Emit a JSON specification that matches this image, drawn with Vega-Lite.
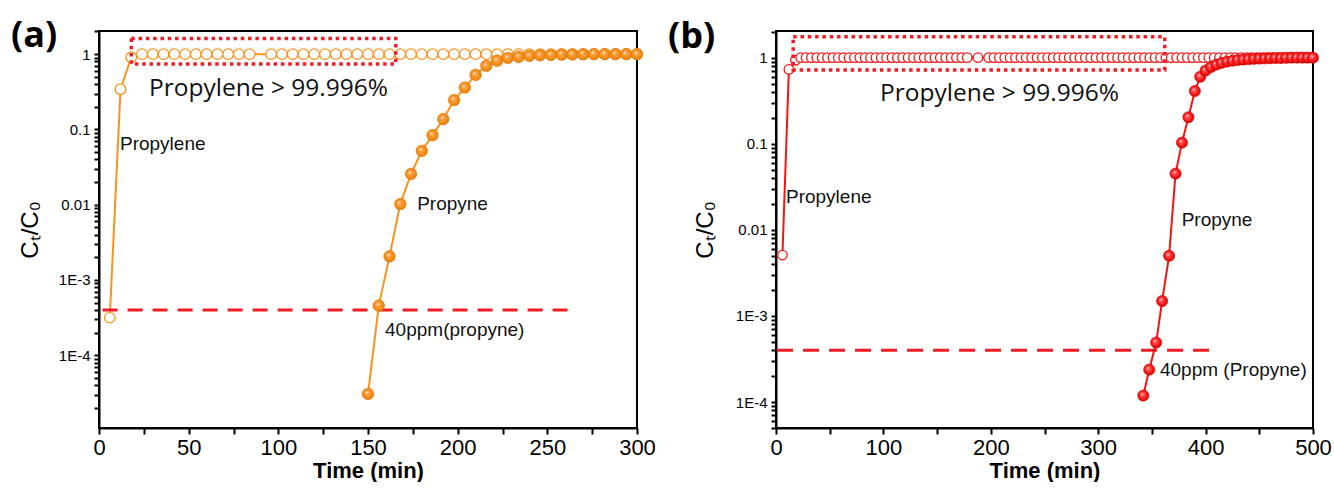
{
  "$schema": "https://vega.github.io/schema/vega-lite/v6.json",
  "padding": {"left": 10, "top": 17, "right": 0, "bottom": 0},
  "background": "white",
  "datasets": {
    "runA": [
      {"gas": "Propylene", "t": 6, "c": 0.000316},
      {"gas": "Propylene", "t": 12, "c": 0.342},
      {"gas": "Propylene", "t": 18, "c": 0.91},
      {"gas": "Propylene", "t": 24, "c": 1}, {"gas": "Propylene", "t": 30, "c": 1}, {"gas": "Propylene", "t": 36, "c": 1},
      {"gas": "Propylene", "t": 42, "c": 1}, {"gas": "Propylene", "t": 48, "c": 1}, {"gas": "Propylene", "t": 54, "c": 1},
      {"gas": "Propylene", "t": 60, "c": 1}, {"gas": "Propylene", "t": 66, "c": 1}, {"gas": "Propylene", "t": 72, "c": 1},
      {"gas": "Propylene", "t": 78, "c": 1}, {"gas": "Propylene", "t": 84, "c": 1}, {"gas": "Propylene", "t": 96, "c": 1},
      {"gas": "Propylene", "t": 102, "c": 1}, {"gas": "Propylene", "t": 108, "c": 1}, {"gas": "Propylene", "t": 114, "c": 1},
      {"gas": "Propylene", "t": 120, "c": 1}, {"gas": "Propylene", "t": 126, "c": 1}, {"gas": "Propylene", "t": 132, "c": 1},
      {"gas": "Propylene", "t": 138, "c": 1}, {"gas": "Propylene", "t": 144, "c": 1}, {"gas": "Propylene", "t": 150, "c": 1},
      {"gas": "Propylene", "t": 156, "c": 1}, {"gas": "Propylene", "t": 162, "c": 1}, {"gas": "Propylene", "t": 168, "c": 1},
      {"gas": "Propylene", "t": 174, "c": 1}, {"gas": "Propylene", "t": 180, "c": 1}, {"gas": "Propylene", "t": 186, "c": 1},
      {"gas": "Propylene", "t": 192, "c": 1}, {"gas": "Propylene", "t": 198, "c": 1}, {"gas": "Propylene", "t": 204, "c": 1},
      {"gas": "Propylene", "t": 210, "c": 1}, {"gas": "Propylene", "t": 216, "c": 1}, {"gas": "Propylene", "t": 222, "c": 1},
      {"gas": "Propylene", "t": 228, "c": 1}, {"gas": "Propylene", "t": 234, "c": 1}, {"gas": "Propylene", "t": 240, "c": 1},
      {"gas": "Propylene", "t": 246, "c": 1}, {"gas": "Propylene", "t": 252, "c": 1}, {"gas": "Propylene", "t": 258, "c": 1},
      {"gas": "Propylene", "t": 264, "c": 1}, {"gas": "Propylene", "t": 270, "c": 1}, {"gas": "Propylene", "t": 276, "c": 1},
      {"gas": "Propylene", "t": 282, "c": 1}, {"gas": "Propylene", "t": 288, "c": 1}, {"gas": "Propylene", "t": 294, "c": 1},
      {"gas": "Propylene", "t": 300, "c": 1},
      {"gas": "Propyne", "t": 150, "c": 0.0000306},
      {"gas": "Propyne", "t": 156, "c": 0.000456},
      {"gas": "Propyne", "t": 162, "c": 0.00206},
      {"gas": "Propyne", "t": 168, "c": 0.0102},
      {"gas": "Propyne", "t": 174, "c": 0.0256},
      {"gas": "Propyne", "t": 180, "c": 0.052},
      {"gas": "Propyne", "t": 186, "c": 0.084},
      {"gas": "Propyne", "t": 192, "c": 0.137},
      {"gas": "Propyne", "t": 198, "c": 0.245},
      {"gas": "Propyne", "t": 204, "c": 0.36},
      {"gas": "Propyne", "t": 210, "c": 0.53},
      {"gas": "Propyne", "t": 216, "c": 0.7},
      {"gas": "Propyne", "t": 222, "c": 0.82},
      {"gas": "Propyne", "t": 228, "c": 0.89},
      {"gas": "Propyne", "t": 234, "c": 0.92},
      {"gas": "Propyne", "t": 240, "c": 0.95},
      {"gas": "Propyne", "t": 246, "c": 0.965},
      {"gas": "Propyne", "t": 252, "c": 0.975},
      {"gas": "Propyne", "t": 258, "c": 0.985},
      {"gas": "Propyne", "t": 264, "c": 0.99},
      {"gas": "Propyne", "t": 270, "c": 0.995},
      {"gas": "Propyne", "t": 276, "c": 1},
      {"gas": "Propyne", "t": 282, "c": 1},
      {"gas": "Propyne", "t": 288, "c": 1},
      {"gas": "Propyne", "t": 294, "c": 1},
      {"gas": "Propyne", "t": 300, "c": 1}
    ],
    "runB": [
      {"gas": "Propylene", "t": 6, "c": 0.0051},
      {"gas": "Propylene", "t": 12, "c": 0.73},
      {"gas": "Propylene", "t": 18, "c": 0.93},
      {"gas": "Propylene", "t": 23, "c": 1}, {"gas": "Propylene", "t": 28, "c": 1}, {"gas": "Propylene", "t": 33, "c": 1},
      {"gas": "Propylene", "t": 38, "c": 1}, {"gas": "Propylene", "t": 43, "c": 1}, {"gas": "Propylene", "t": 48, "c": 1},
      {"gas": "Propylene", "t": 53, "c": 1}, {"gas": "Propylene", "t": 58, "c": 1}, {"gas": "Propylene", "t": 63, "c": 1},
      {"gas": "Propylene", "t": 68, "c": 1}, {"gas": "Propylene", "t": 73, "c": 1}, {"gas": "Propylene", "t": 78, "c": 1},
      {"gas": "Propylene", "t": 83, "c": 1}, {"gas": "Propylene", "t": 88, "c": 1}, {"gas": "Propylene", "t": 93, "c": 1},
      {"gas": "Propylene", "t": 98, "c": 1}, {"gas": "Propylene", "t": 103, "c": 1}, {"gas": "Propylene", "t": 108, "c": 1},
      {"gas": "Propylene", "t": 113, "c": 1}, {"gas": "Propylene", "t": 118, "c": 1}, {"gas": "Propylene", "t": 123, "c": 1},
      {"gas": "Propylene", "t": 128, "c": 1}, {"gas": "Propylene", "t": 133, "c": 1}, {"gas": "Propylene", "t": 138, "c": 1},
      {"gas": "Propylene", "t": 143, "c": 1}, {"gas": "Propylene", "t": 148, "c": 1}, {"gas": "Propylene", "t": 153, "c": 1},
      {"gas": "Propylene", "t": 158, "c": 1}, {"gas": "Propylene", "t": 163, "c": 1}, {"gas": "Propylene", "t": 168, "c": 1},
      {"gas": "Propylene", "t": 173, "c": 1}, {"gas": "Propylene", "t": 178, "c": 1}, {"gas": "Propylene", "t": 188, "c": 1},
      {"gas": "Propylene", "t": 198, "c": 1}, {"gas": "Propylene", "t": 203, "c": 1}, {"gas": "Propylene", "t": 208, "c": 1},
      {"gas": "Propylene", "t": 213, "c": 1}, {"gas": "Propylene", "t": 218, "c": 1}, {"gas": "Propylene", "t": 223, "c": 1},
      {"gas": "Propylene", "t": 228, "c": 1}, {"gas": "Propylene", "t": 233, "c": 1}, {"gas": "Propylene", "t": 238, "c": 1},
      {"gas": "Propylene", "t": 243, "c": 1}, {"gas": "Propylene", "t": 248, "c": 1}, {"gas": "Propylene", "t": 253, "c": 1},
      {"gas": "Propylene", "t": 258, "c": 1}, {"gas": "Propylene", "t": 263, "c": 1}, {"gas": "Propylene", "t": 268, "c": 1},
      {"gas": "Propylene", "t": 273, "c": 1}, {"gas": "Propylene", "t": 278, "c": 1}, {"gas": "Propylene", "t": 283, "c": 1},
      {"gas": "Propylene", "t": 288, "c": 1}, {"gas": "Propylene", "t": 293, "c": 1}, {"gas": "Propylene", "t": 298, "c": 1},
      {"gas": "Propylene", "t": 303, "c": 1}, {"gas": "Propylene", "t": 308, "c": 1}, {"gas": "Propylene", "t": 313, "c": 1},
      {"gas": "Propylene", "t": 318, "c": 1}, {"gas": "Propylene", "t": 323, "c": 1}, {"gas": "Propylene", "t": 328, "c": 1},
      {"gas": "Propylene", "t": 333, "c": 1}, {"gas": "Propylene", "t": 338, "c": 1}, {"gas": "Propylene", "t": 343, "c": 1},
      {"gas": "Propylene", "t": 348, "c": 1}, {"gas": "Propylene", "t": 353, "c": 1}, {"gas": "Propylene", "t": 358, "c": 1},
      {"gas": "Propylene", "t": 363, "c": 1}, {"gas": "Propylene", "t": 368, "c": 1}, {"gas": "Propylene", "t": 373, "c": 1},
      {"gas": "Propylene", "t": 378, "c": 1}, {"gas": "Propylene", "t": 383, "c": 1}, {"gas": "Propylene", "t": 388, "c": 1},
      {"gas": "Propylene", "t": 393, "c": 1}, {"gas": "Propylene", "t": 398, "c": 1}, {"gas": "Propylene", "t": 403, "c": 1},
      {"gas": "Propylene", "t": 408, "c": 1}, {"gas": "Propylene", "t": 413, "c": 1}, {"gas": "Propylene", "t": 418, "c": 1},
      {"gas": "Propylene", "t": 423, "c": 1}, {"gas": "Propylene", "t": 428, "c": 1}, {"gas": "Propylene", "t": 433, "c": 1},
      {"gas": "Propylene", "t": 438, "c": 1}, {"gas": "Propylene", "t": 443, "c": 1}, {"gas": "Propylene", "t": 448, "c": 1},
      {"gas": "Propylene", "t": 453, "c": 1}, {"gas": "Propylene", "t": 458, "c": 1}, {"gas": "Propylene", "t": 463, "c": 1},
      {"gas": "Propylene", "t": 468, "c": 1}, {"gas": "Propylene", "t": 473, "c": 1}, {"gas": "Propylene", "t": 478, "c": 1},
      {"gas": "Propylene", "t": 483, "c": 1}, {"gas": "Propylene", "t": 488, "c": 1}, {"gas": "Propylene", "t": 493, "c": 1},
      {"gas": "Propylene", "t": 498, "c": 1},
      {"gas": "Propyne", "t": 342, "c": 0.000119},
      {"gas": "Propyne", "t": 347.5, "c": 0.000238},
      {"gas": "Propyne", "t": 354, "c": 0.000492},
      {"gas": "Propyne", "t": 359.5, "c": 0.00149},
      {"gas": "Propyne", "t": 366, "c": 0.005},
      {"gas": "Propyne", "t": 372, "c": 0.045},
      {"gas": "Propyne", "t": 378, "c": 0.103},
      {"gas": "Propyne", "t": 384, "c": 0.203},
      {"gas": "Propyne", "t": 390, "c": 0.41},
      {"gas": "Propyne", "t": 395, "c": 0.6},
      {"gas": "Propyne", "t": 400, "c": 0.71},
      {"gas": "Propyne", "t": 405, "c": 0.78},
      {"gas": "Propyne", "t": 410, "c": 0.83},
      {"gas": "Propyne", "t": 415, "c": 0.87},
      {"gas": "Propyne", "t": 420, "c": 0.9},
      {"gas": "Propyne", "t": 425, "c": 0.92},
      {"gas": "Propyne", "t": 430, "c": 0.94},
      {"gas": "Propyne", "t": 435, "c": 0.95},
      {"gas": "Propyne", "t": 440, "c": 0.96},
      {"gas": "Propyne", "t": 445, "c": 0.97},
      {"gas": "Propyne", "t": 450, "c": 0.975},
      {"gas": "Propyne", "t": 455, "c": 0.98},
      {"gas": "Propyne", "t": 460, "c": 0.985},
      {"gas": "Propyne", "t": 465, "c": 0.99},
      {"gas": "Propyne", "t": 470, "c": 0.99},
      {"gas": "Propyne", "t": 475, "c": 0.995},
      {"gas": "Propyne", "t": 480, "c": 1},
      {"gas": "Propyne", "t": 485, "c": 1},
      {"gas": "Propyne", "t": 490, "c": 1},
      {"gas": "Propyne", "t": 495, "c": 1},
      {"gas": "Propyne", "t": 500, "c": 1}
    ]
  },
  "hconcat": [
    {
      "width": 538,
      "height": 397,
      "title": {"text": "(a)", "anchor": "start", "frame": "group", "dx": -88, "dy": 31, "offset": 0},
      "data": {"name": "runA"},
      "layer": [
        {
          "transform": [{"filter": "datum.gas == 'Propylene'"}],
          "mark": {"type": "line", "color": "#f7941d", "strokeWidth": 2},
          "encoding": {
            "x": {"field": "t", "type": "quantitative", "scale": {"domain": [0, 300], "nice": false, "zero": false},
                  "axis": {"title": "Time (min)", "ticks": true, "tickSize": 6, "tickWidth": 2, "tickColor": "black", "values": [0, 25, 50, 75, 100, 125, 150, 175, 200, 225, 250, 275, 300], "labelExpr": "datum.value % 50 == 0 ? datum.label : ''"}},
            "y": {"field": "c", "type": "quantitative", "scale": {"type": "log", "domain": [0.0000108, 2.03], "nice": false},
                  "axis": {"title": "Cₜ/C₀", "titlePadding": 16, "ticks": true, "tickSize": 5, "tickWidth": 2, "tickColor": "black", "values": [0.00002, 0.00003, 0.00004, 0.00005, 0.00006, 0.00007, 0.00008, 0.00009, 0.0001, 0.0002, 0.0003, 0.0004, 0.0005, 0.0006, 0.0007, 0.0008, 0.0009, 0.001, 0.002, 0.003, 0.004, 0.005, 0.006, 0.007, 0.008, 0.009, 0.01, 0.02, 0.03, 0.04, 0.05, 0.06, 0.07, 0.08, 0.09, 0.1, 0.2, 0.3, 0.4, 0.5, 0.6, 0.7, 0.8, 0.9, 1, 2]}}
          }
        },
        {
          "transform": [{"filter": "datum.gas == 'Propylene'"}],
          "mark": {"type": "point", "shape": "circle", "filled": true, "fill": "white", "stroke": "#f7941d", "strokeWidth": 1.3, "size": 112, "opacity": 1},
          "encoding": {
            "x": {"field": "t", "type": "quantitative",
                  "axis": {"title": "Time (min)", "ticks": true, "tickSize": 6, "tickWidth": 2, "tickColor": "black", "values": [0, 25, 50, 75, 100, 125, 150, 175, 200, 225, 250, 275, 300], "labelExpr": "datum.value % 50 == 0 ? datum.label : ''"}},
            "y": {"field": "c", "type": "quantitative",
                  "axis": {"title": "Cₜ/C₀", "titlePadding": 16, "ticks": true, "tickSize": 5, "tickWidth": 2, "tickColor": "black", "values": [0.00002, 0.00003, 0.00004, 0.00005, 0.00006, 0.00007, 0.00008, 0.00009, 0.0001, 0.0002, 0.0003, 0.0004, 0.0005, 0.0006, 0.0007, 0.0008, 0.0009, 0.001, 0.002, 0.003, 0.004, 0.005, 0.006, 0.007, 0.008, 0.009, 0.01, 0.02, 0.03, 0.04, 0.05, 0.06, 0.07, 0.08, 0.09, 0.1, 0.2, 0.3, 0.4, 0.5, 0.6, 0.7, 0.8, 0.9, 1, 2]}}
          }
        },
        {
          "data": {"values": [{}]},
          "mark": {"type": "rect", "fill": null, "stroke": "#ee1c25", "strokeWidth": 3.5, "strokeDash": [3.5, 3.8]},
          "encoding": {
            "x": {"datum": 18,
                  "axis": {"title": "Time (min)", "ticks": true, "tickSize": 6, "tickWidth": 2, "tickColor": "black", "values": [0, 25, 50, 75, 100, 125, 150, 175, 200, 225, 250, 275, 300], "labelExpr": "datum.value % 50 == 0 ? datum.label : ''"}},
            "x2": {"datum": 165.5},
            "y": {"datum": 0.74,
                  "axis": {"title": "Cₜ/C₀", "titlePadding": 16, "ticks": true, "tickSize": 5, "tickWidth": 2, "tickColor": "black", "values": [0.00002, 0.00003, 0.00004, 0.00005, 0.00006, 0.00007, 0.00008, 0.00009, 0.0001, 0.0002, 0.0003, 0.0004, 0.0005, 0.0006, 0.0007, 0.0008, 0.0009, 0.001, 0.002, 0.003, 0.004, 0.005, 0.006, 0.007, 0.008, 0.009, 0.01, 0.02, 0.03, 0.04, 0.05, 0.06, 0.07, 0.08, 0.09, 0.1, 0.2, 0.3, 0.4, 0.5, 0.6, 0.7, 0.8, 0.9, 1, 2]}},
            "y2": {"datum": 1.62}
          }
        },
        {
          "data": {"values": [{}]},
          "mark": {"type": "rule", "stroke": "#f01c24", "strokeWidth": 3, "strokeDash": [15, 10]},
          "encoding": {
            "x": {"datum": 2,
                  "axis": {"title": "Time (min)", "ticks": true, "tickSize": 6, "tickWidth": 2, "tickColor": "black", "values": [0, 25, 50, 75, 100, 125, 150, 175, 200, 225, 250, 275, 300], "labelExpr": "datum.value % 50 == 0 ? datum.label : ''"}},
            "x2": {"datum": 263},
            "y": {"datum": 0.0004,
                  "axis": {"title": "Cₜ/C₀", "titlePadding": 16, "ticks": true, "tickSize": 5, "tickWidth": 2, "tickColor": "black", "values": [0.00002, 0.00003, 0.00004, 0.00005, 0.00006, 0.00007, 0.00008, 0.00009, 0.0001, 0.0002, 0.0003, 0.0004, 0.0005, 0.0006, 0.0007, 0.0008, 0.0009, 0.001, 0.002, 0.003, 0.004, 0.005, 0.006, 0.007, 0.008, 0.009, 0.01, 0.02, 0.03, 0.04, 0.05, 0.06, 0.07, 0.08, 0.09, 0.1, 0.2, 0.3, 0.4, 0.5, 0.6, 0.7, 0.8, 0.9, 1, 2]}}
          }
        },
        {
          "transform": [{"filter": "datum.gas == 'Propyne'"}],
          "mark": {"type": "line", "color": "#f7941d", "strokeWidth": 2},
          "encoding": {
            "x": {"field": "t", "type": "quantitative",
                  "axis": {"title": "Time (min)", "ticks": true, "tickSize": 6, "tickWidth": 2, "tickColor": "black", "values": [0, 25, 50, 75, 100, 125, 150, 175, 200, 225, 250, 275, 300], "labelExpr": "datum.value % 50 == 0 ? datum.label : ''"}},
            "y": {"field": "c", "type": "quantitative",
                  "axis": {"title": "Cₜ/C₀", "titlePadding": 16, "ticks": true, "tickSize": 5, "tickWidth": 2, "tickColor": "black", "values": [0.00002, 0.00003, 0.00004, 0.00005, 0.00006, 0.00007, 0.00008, 0.00009, 0.0001, 0.0002, 0.0003, 0.0004, 0.0005, 0.0006, 0.0007, 0.0008, 0.0009, 0.001, 0.002, 0.003, 0.004, 0.005, 0.006, 0.007, 0.008, 0.009, 0.01, 0.02, 0.03, 0.04, 0.05, 0.06, 0.07, 0.08, 0.09, 0.1, 0.2, 0.3, 0.4, 0.5, 0.6, 0.7, 0.8, 0.9, 1, 2]}}
          }
        },
        {
          "transform": [{"filter": "datum.gas == 'Propyne'"}],
          "mark": {"type": "point", "shape": "circle", "filled": true, "size": 135, "opacity": 1,
                   "stroke": "#e07a0a", "strokeWidth": 0.6,
                   "fill": {"gradient": "radial", "x1": 0.38, "y1": 0.35, "r1": 0, "x2": 0.5, "y2": 0.5, "r2": 0.55,
                            "stops": [{"offset": 0, "color": "#fff1dc"}, {"offset": 0.3, "color": "#f9a040"},
                                      {"offset": 0.75, "color": "#f28a12"}, {"offset": 1, "color": "#d96f00"}]}},
          "encoding": {
            "x": {"field": "t", "type": "quantitative",
                  "axis": {"title": "Time (min)", "ticks": true, "tickSize": 6, "tickWidth": 2, "tickColor": "black", "values": [0, 25, 50, 75, 100, 125, 150, 175, 200, 225, 250, 275, 300], "labelExpr": "datum.value % 50 == 0 ? datum.label : ''"}},
            "y": {"field": "c", "type": "quantitative",
                  "axis": {"title": "Cₜ/C₀", "titlePadding": 16, "ticks": true, "tickSize": 5, "tickWidth": 2, "tickColor": "black", "values": [0.00002, 0.00003, 0.00004, 0.00005, 0.00006, 0.00007, 0.00008, 0.00009, 0.0001, 0.0002, 0.0003, 0.0004, 0.0005, 0.0006, 0.0007, 0.0008, 0.0009, 0.001, 0.002, 0.003, 0.004, 0.005, 0.006, 0.007, 0.008, 0.009, 0.01, 0.02, 0.03, 0.04, 0.05, 0.06, 0.07, 0.08, 0.09, 0.1, 0.2, 0.3, 0.4, 0.5, 0.6, 0.7, 0.8, 0.9, 1, 2]}}
          }
        },
        {
          "data": {"values": [{}]},
          "mark": {"type": "text", "text": "Propylene > 99.996%", "align": "left", "baseline": "middle", "font": "Open Sans", "fontSize": 24.5, "color": "#111"},
          "encoding": {
            "x": {"datum": 27.9,
                  "axis": {"title": "Time (min)", "ticks": true, "tickSize": 6, "tickWidth": 2, "tickColor": "black", "values": [0, 25, 50, 75, 100, 125, 150, 175, 200, 225, 250, 275, 300], "labelExpr": "datum.value % 50 == 0 ? datum.label : ''"}},
            "y": {"datum": 0.344,
                  "axis": {"title": "Cₜ/C₀", "titlePadding": 16, "ticks": true, "tickSize": 5, "tickWidth": 2, "tickColor": "black", "values": [0.00002, 0.00003, 0.00004, 0.00005, 0.00006, 0.00007, 0.00008, 0.00009, 0.0001, 0.0002, 0.0003, 0.0004, 0.0005, 0.0006, 0.0007, 0.0008, 0.0009, 0.001, 0.002, 0.003, 0.004, 0.005, 0.006, 0.007, 0.008, 0.009, 0.01, 0.02, 0.03, 0.04, 0.05, 0.06, 0.07, 0.08, 0.09, 0.1, 0.2, 0.3, 0.4, 0.5, 0.6, 0.7, 0.8, 0.9, 1, 2]}}
          }
        },
        {
          "data": {"values": [{}]},
          "mark": {"type": "text", "text": "Propylene", "align": "left", "baseline": "middle", "font": "Liberation Sans", "fontSize": 19, "color": "#111"},
          "encoding": {
            "x": {"datum": 11.7,
                  "axis": {"title": "Time (min)", "ticks": true, "tickSize": 6, "tickWidth": 2, "tickColor": "black", "values": [0, 25, 50, 75, 100, 125, 150, 175, 200, 225, 250, 275, 300], "labelExpr": "datum.value % 50 == 0 ? datum.label : ''"}},
            "y": {"datum": 0.064,
                  "axis": {"title": "Cₜ/C₀", "titlePadding": 16, "ticks": true, "tickSize": 5, "tickWidth": 2, "tickColor": "black", "values": [0.00002, 0.00003, 0.00004, 0.00005, 0.00006, 0.00007, 0.00008, 0.00009, 0.0001, 0.0002, 0.0003, 0.0004, 0.0005, 0.0006, 0.0007, 0.0008, 0.0009, 0.001, 0.002, 0.003, 0.004, 0.005, 0.006, 0.007, 0.008, 0.009, 0.01, 0.02, 0.03, 0.04, 0.05, 0.06, 0.07, 0.08, 0.09, 0.1, 0.2, 0.3, 0.4, 0.5, 0.6, 0.7, 0.8, 0.9, 1, 2]}}
          }
        },
        {
          "data": {"values": [{}]},
          "mark": {"type": "text", "text": "Propyne", "align": "left", "baseline": "middle", "font": "Liberation Sans", "fontSize": 19, "color": "#111"},
          "encoding": {
            "x": {"datum": 177.4,
                  "axis": {"title": "Time (min)", "ticks": true, "tickSize": 6, "tickWidth": 2, "tickColor": "black", "values": [0, 25, 50, 75, 100, 125, 150, 175, 200, 225, 250, 275, 300], "labelExpr": "datum.value % 50 == 0 ? datum.label : ''"}},
            "y": {"datum": 0.0102,
                  "axis": {"title": "Cₜ/C₀", "titlePadding": 16, "ticks": true, "tickSize": 5, "tickWidth": 2, "tickColor": "black", "values": [0.00002, 0.00003, 0.00004, 0.00005, 0.00006, 0.00007, 0.00008, 0.00009, 0.0001, 0.0002, 0.0003, 0.0004, 0.0005, 0.0006, 0.0007, 0.0008, 0.0009, 0.001, 0.002, 0.003, 0.004, 0.005, 0.006, 0.007, 0.008, 0.009, 0.01, 0.02, 0.03, 0.04, 0.05, 0.06, 0.07, 0.08, 0.09, 0.1, 0.2, 0.3, 0.4, 0.5, 0.6, 0.7, 0.8, 0.9, 1, 2]}}
          }
        },
        {
          "data": {"values": [{}]},
          "mark": {"type": "text", "text": "40ppm(propyne)", "align": "left", "baseline": "middle", "font": "Liberation Sans", "fontSize": 19, "color": "#111"},
          "encoding": {
            "x": {"datum": 159.5,
                  "axis": {"title": "Time (min)", "ticks": true, "tickSize": 6, "tickWidth": 2, "tickColor": "black", "values": [0, 25, 50, 75, 100, 125, 150, 175, 200, 225, 250, 275, 300], "labelExpr": "datum.value % 50 == 0 ? datum.label : ''"}},
            "y": {"datum": 0.000217,
                  "axis": {"title": "Cₜ/C₀", "titlePadding": 16, "ticks": true, "tickSize": 5, "tickWidth": 2, "tickColor": "black", "values": [0.00002, 0.00003, 0.00004, 0.00005, 0.00006, 0.00007, 0.00008, 0.00009, 0.0001, 0.0002, 0.0003, 0.0004, 0.0005, 0.0006, 0.0007, 0.0008, 0.0009, 0.001, 0.002, 0.003, 0.004, 0.005, 0.006, 0.007, 0.008, 0.009, 0.01, 0.02, 0.03, 0.04, 0.05, 0.06, 0.07, 0.08, 0.09, 0.1, 0.2, 0.3, 0.4, 0.5, 0.6, 0.7, 0.8, 0.9, 1, 2]}}
          }
        }
      ]
    },
    {
      "width": 537,
      "height": 397,
      "title": {"text": "(b)", "anchor": "start", "frame": "group", "dx": -108, "dy": 31, "offset": 0},
      "data": {"name": "runB"},
      "layer": [
        {
          "transform": [{"filter": "datum.gas == 'Propylene'"}],
          "mark": {"type": "line", "color": "#f51414", "strokeWidth": 2},
          "encoding": {
            "x": {"field": "t", "type": "quantitative", "scale": {"domain": [0, 500], "nice": false, "zero": false},
                  "axis": {"title": "Time (min)", "ticks": true, "tickSize": 6, "tickWidth": 2, "tickColor": "black", "values": [0, 50, 100, 150, 200, 250, 300, 350, 400, 450, 500], "labelExpr": "datum.value % 100 == 0 ? datum.label : ''"}},
            "y": {"field": "c", "type": "quantitative", "scale": {"type": "log", "domain": [0.00005, 2.04], "nice": false},
                  "axis": {"title": "Cₜ/C₀", "titlePadding": 18, "ticks": true, "tickSize": 5, "tickWidth": 2, "tickColor": "black", "values": [0.00005, 0.00006, 0.00007, 0.00008, 0.00009, 0.0001, 0.0002, 0.0003, 0.0004, 0.0005, 0.0006, 0.0007, 0.0008, 0.0009, 0.001, 0.002, 0.003, 0.004, 0.005, 0.006, 0.007, 0.008, 0.009, 0.01, 0.02, 0.03, 0.04, 0.05, 0.06, 0.07, 0.08, 0.09, 0.1, 0.2, 0.3, 0.4, 0.5, 0.6, 0.7, 0.8, 0.9, 1, 2]}}
          }
        },
        {
          "transform": [{"filter": "datum.gas == 'Propylene'"}],
          "mark": {"type": "point", "shape": "circle", "filled": true, "fill": "white", "stroke": "#f51414", "strokeWidth": 1.3, "size": 90, "opacity": 1},
          "encoding": {
            "x": {"field": "t", "type": "quantitative",
                  "axis": {"title": "Time (min)", "ticks": true, "tickSize": 6, "tickWidth": 2, "tickColor": "black", "values": [0, 50, 100, 150, 200, 250, 300, 350, 400, 450, 500], "labelExpr": "datum.value % 100 == 0 ? datum.label : ''"}},
            "y": {"field": "c", "type": "quantitative",
                  "axis": {"title": "Cₜ/C₀", "titlePadding": 18, "ticks": true, "tickSize": 5, "tickWidth": 2, "tickColor": "black", "values": [0.00005, 0.00006, 0.00007, 0.00008, 0.00009, 0.0001, 0.0002, 0.0003, 0.0004, 0.0005, 0.0006, 0.0007, 0.0008, 0.0009, 0.001, 0.002, 0.003, 0.004, 0.005, 0.006, 0.007, 0.008, 0.009, 0.01, 0.02, 0.03, 0.04, 0.05, 0.06, 0.07, 0.08, 0.09, 0.1, 0.2, 0.3, 0.4, 0.5, 0.6, 0.7, 0.8, 0.9, 1, 2]}}
          }
        },
        {
          "data": {"values": [{}]},
          "mark": {"type": "rect", "fill": null, "stroke": "#ee1c25", "strokeWidth": 3.5, "strokeDash": [3.5, 3.8]},
          "encoding": {
            "x": {"datum": 16,
                  "axis": {"title": "Time (min)", "ticks": true, "tickSize": 6, "tickWidth": 2, "tickColor": "black", "values": [0, 50, 100, 150, 200, 250, 300, 350, 400, 450, 500], "labelExpr": "datum.value % 100 == 0 ? datum.label : ''"}},
            "x2": {"datum": 362},
            "y": {"datum": 0.72,
                  "axis": {"title": "Cₜ/C₀", "titlePadding": 18, "ticks": true, "tickSize": 5, "tickWidth": 2, "tickColor": "black", "values": [0.00005, 0.00006, 0.00007, 0.00008, 0.00009, 0.0001, 0.0002, 0.0003, 0.0004, 0.0005, 0.0006, 0.0007, 0.0008, 0.0009, 0.001, 0.002, 0.003, 0.004, 0.005, 0.006, 0.007, 0.008, 0.009, 0.01, 0.02, 0.03, 0.04, 0.05, 0.06, 0.07, 0.08, 0.09, 0.1, 0.2, 0.3, 0.4, 0.5, 0.6, 0.7, 0.8, 0.9, 1, 2]}},
            "y2": {"datum": 1.75}
          }
        },
        {
          "data": {"values": [{}]},
          "mark": {"type": "rule", "stroke": "#f01c24", "strokeWidth": 3, "strokeDash": [16, 10]},
          "encoding": {
            "x": {"datum": 1,
                  "axis": {"title": "Time (min)", "ticks": true, "tickSize": 6, "tickWidth": 2, "tickColor": "black", "values": [0, 50, 100, 150, 200, 250, 300, 350, 400, 450, 500], "labelExpr": "datum.value % 100 == 0 ? datum.label : ''"}},
            "x2": {"datum": 410},
            "y": {"datum": 0.0004,
                  "axis": {"title": "Cₜ/C₀", "titlePadding": 18, "ticks": true, "tickSize": 5, "tickWidth": 2, "tickColor": "black", "values": [0.00005, 0.00006, 0.00007, 0.00008, 0.00009, 0.0001, 0.0002, 0.0003, 0.0004, 0.0005, 0.0006, 0.0007, 0.0008, 0.0009, 0.001, 0.002, 0.003, 0.004, 0.005, 0.006, 0.007, 0.008, 0.009, 0.01, 0.02, 0.03, 0.04, 0.05, 0.06, 0.07, 0.08, 0.09, 0.1, 0.2, 0.3, 0.4, 0.5, 0.6, 0.7, 0.8, 0.9, 1, 2]}}
          }
        },
        {
          "transform": [{"filter": "datum.gas == 'Propyne'"}],
          "mark": {"type": "line", "color": "#f51414", "strokeWidth": 2},
          "encoding": {
            "x": {"field": "t", "type": "quantitative",
                  "axis": {"title": "Time (min)", "ticks": true, "tickSize": 6, "tickWidth": 2, "tickColor": "black", "values": [0, 50, 100, 150, 200, 250, 300, 350, 400, 450, 500], "labelExpr": "datum.value % 100 == 0 ? datum.label : ''"}},
            "y": {"field": "c", "type": "quantitative",
                  "axis": {"title": "Cₜ/C₀", "titlePadding": 18, "ticks": true, "tickSize": 5, "tickWidth": 2, "tickColor": "black", "values": [0.00005, 0.00006, 0.00007, 0.00008, 0.00009, 0.0001, 0.0002, 0.0003, 0.0004, 0.0005, 0.0006, 0.0007, 0.0008, 0.0009, 0.001, 0.002, 0.003, 0.004, 0.005, 0.006, 0.007, 0.008, 0.009, 0.01, 0.02, 0.03, 0.04, 0.05, 0.06, 0.07, 0.08, 0.09, 0.1, 0.2, 0.3, 0.4, 0.5, 0.6, 0.7, 0.8, 0.9, 1, 2]}}
          }
        },
        {
          "transform": [{"filter": "datum.gas == 'Propyne'"}],
          "mark": {"type": "point", "shape": "circle", "filled": true, "size": 125, "opacity": 1,
                   "stroke": "#d40000", "strokeWidth": 0.6,
                   "fill": {"gradient": "radial", "x1": 0.38, "y1": 0.35, "r1": 0, "x2": 0.5, "y2": 0.5, "r2": 0.55,
                            "stops": [{"offset": 0, "color": "#ffe0e0"}, {"offset": 0.3, "color": "#ff4a4a"},
                                      {"offset": 0.75, "color": "#f01010"}, {"offset": 1, "color": "#c00000"}]}},
          "encoding": {
            "x": {"field": "t", "type": "quantitative",
                  "axis": {"title": "Time (min)", "ticks": true, "tickSize": 6, "tickWidth": 2, "tickColor": "black", "values": [0, 50, 100, 150, 200, 250, 300, 350, 400, 450, 500], "labelExpr": "datum.value % 100 == 0 ? datum.label : ''"}},
            "y": {"field": "c", "type": "quantitative",
                  "axis": {"title": "Cₜ/C₀", "titlePadding": 18, "ticks": true, "tickSize": 5, "tickWidth": 2, "tickColor": "black", "values": [0.00005, 0.00006, 0.00007, 0.00008, 0.00009, 0.0001, 0.0002, 0.0003, 0.0004, 0.0005, 0.0006, 0.0007, 0.0008, 0.0009, 0.001, 0.002, 0.003, 0.004, 0.005, 0.006, 0.007, 0.008, 0.009, 0.01, 0.02, 0.03, 0.04, 0.05, 0.06, 0.07, 0.08, 0.09, 0.1, 0.2, 0.3, 0.4, 0.5, 0.6, 0.7, 0.8, 0.9, 1, 2]}}
          }
        },
        {
          "data": {"values": [{}]},
          "mark": {"type": "text", "text": "Propylene > 99.996%", "align": "left", "baseline": "middle", "font": "Open Sans", "fontSize": 24.5, "color": "#111"},
          "encoding": {
            "x": {"datum": 96.8,
                  "axis": {"title": "Time (min)", "ticks": true, "tickSize": 6, "tickWidth": 2, "tickColor": "black", "values": [0, 50, 100, 150, 200, 250, 300, 350, 400, 450, 500], "labelExpr": "datum.value % 100 == 0 ? datum.label : ''"}},
            "y": {"datum": 0.377,
                  "axis": {"title": "Cₜ/C₀", "titlePadding": 18, "ticks": true, "tickSize": 5, "tickWidth": 2, "tickColor": "black", "values": [0.00005, 0.00006, 0.00007, 0.00008, 0.00009, 0.0001, 0.0002, 0.0003, 0.0004, 0.0005, 0.0006, 0.0007, 0.0008, 0.0009, 0.001, 0.002, 0.003, 0.004, 0.005, 0.006, 0.007, 0.008, 0.009, 0.01, 0.02, 0.03, 0.04, 0.05, 0.06, 0.07, 0.08, 0.09, 0.1, 0.2, 0.3, 0.4, 0.5, 0.6, 0.7, 0.8, 0.9, 1, 2]}}
          }
        },
        {
          "data": {"values": [{}]},
          "mark": {"type": "text", "text": "Propylene", "align": "left", "baseline": "middle", "font": "Liberation Sans", "fontSize": 19, "color": "#111"},
          "encoding": {
            "x": {"datum": 9.3,
                  "axis": {"title": "Time (min)", "ticks": true, "tickSize": 6, "tickWidth": 2, "tickColor": "black", "values": [0, 50, 100, 150, 200, 250, 300, 350, 400, 450, 500], "labelExpr": "datum.value % 100 == 0 ? datum.label : ''"}},
            "y": {"datum": 0.0241,
                  "axis": {"title": "Cₜ/C₀", "titlePadding": 18, "ticks": true, "tickSize": 5, "tickWidth": 2, "tickColor": "black", "values": [0.00005, 0.00006, 0.00007, 0.00008, 0.00009, 0.0001, 0.0002, 0.0003, 0.0004, 0.0005, 0.0006, 0.0007, 0.0008, 0.0009, 0.001, 0.002, 0.003, 0.004, 0.005, 0.006, 0.007, 0.008, 0.009, 0.01, 0.02, 0.03, 0.04, 0.05, 0.06, 0.07, 0.08, 0.09, 0.1, 0.2, 0.3, 0.4, 0.5, 0.6, 0.7, 0.8, 0.9, 1, 2]}}
          }
        },
        {
          "data": {"values": [{}]},
          "mark": {"type": "text", "text": "Propyne", "align": "left", "baseline": "middle", "font": "Liberation Sans", "fontSize": 19, "color": "#111"},
          "encoding": {
            "x": {"datum": 377.7,
                  "axis": {"title": "Time (min)", "ticks": true, "tickSize": 6, "tickWidth": 2, "tickColor": "black", "values": [0, 50, 100, 150, 200, 250, 300, 350, 400, 450, 500], "labelExpr": "datum.value % 100 == 0 ? datum.label : ''"}},
            "y": {"datum": 0.0129,
                  "axis": {"title": "Cₜ/C₀", "titlePadding": 18, "ticks": true, "tickSize": 5, "tickWidth": 2, "tickColor": "black", "values": [0.00005, 0.00006, 0.00007, 0.00008, 0.00009, 0.0001, 0.0002, 0.0003, 0.0004, 0.0005, 0.0006, 0.0007, 0.0008, 0.0009, 0.001, 0.002, 0.003, 0.004, 0.005, 0.006, 0.007, 0.008, 0.009, 0.01, 0.02, 0.03, 0.04, 0.05, 0.06, 0.07, 0.08, 0.09, 0.1, 0.2, 0.3, 0.4, 0.5, 0.6, 0.7, 0.8, 0.9, 1, 2]}}
          }
        },
        {
          "data": {"values": [{}]},
          "mark": {"type": "text", "text": "40ppm (Propyne)", "align": "left", "baseline": "middle", "font": "Liberation Sans", "fontSize": 19, "color": "#111"},
          "encoding": {
            "x": {"datum": 357.5,
                  "axis": {"title": "Time (min)", "ticks": true, "tickSize": 6, "tickWidth": 2, "tickColor": "black", "values": [0, 50, 100, 150, 200, 250, 300, 350, 400, 450, 500], "labelExpr": "datum.value % 100 == 0 ? datum.label : ''"}},
            "y": {"datum": 0.000233,
                  "axis": {"title": "Cₜ/C₀", "titlePadding": 18, "ticks": true, "tickSize": 5, "tickWidth": 2, "tickColor": "black", "values": [0.00005, 0.00006, 0.00007, 0.00008, 0.00009, 0.0001, 0.0002, 0.0003, 0.0004, 0.0005, 0.0006, 0.0007, 0.0008, 0.0009, 0.001, 0.002, 0.003, 0.004, 0.005, 0.006, 0.007, 0.008, 0.009, 0.01, 0.02, 0.03, 0.04, 0.05, 0.06, 0.07, 0.08, 0.09, 0.1, 0.2, 0.3, 0.4, 0.5, 0.6, 0.7, 0.8, 0.9, 1, 2]}}
          }
        }
      ]
    }
  ],
  "spacing": 10,
  "config": {
    "view": {"stroke": "black", "strokeWidth": 2},
    "title": {"font": "Open Sans", "fontWeight": "bold", "fontSize": 36, "color": "black"},
    "axis": {
      "grid": false,
      "domainColor": "black", "domainWidth": 2,
      "ticks": true, "tickColor": "black", "tickWidth": 2,
      "labelColor": "black", "titleColor": "black",
      "labelFont": "Liberation Sans", "titleFont": "Liberation Sans",
      "labelOverlap": false, "labelFlush": false, "labelBound": false
    },
    "axisX": {
      "tickSize": 6, "labelFontSize": 22, "labelPadding": 3,
      "titleFontSize": 22, "titleFontWeight": "bold", "titlePadding": 2
    },
    "axisY": {
      "tickSize": 5, "labelFontSize": 15, "labelPadding": 4,
      "labelExpr": "datum.value == 1 ? '1' : datum.value == 0.1 ? '0.1' : datum.value == 0.01 ? '0.01' : datum.value == 0.001 ? '1E-3' : datum.value == 0.0001 ? '1E-4' : ''",
      "titleFontSize": 24, "titleFontWeight": "normal"
    }
  }
}
